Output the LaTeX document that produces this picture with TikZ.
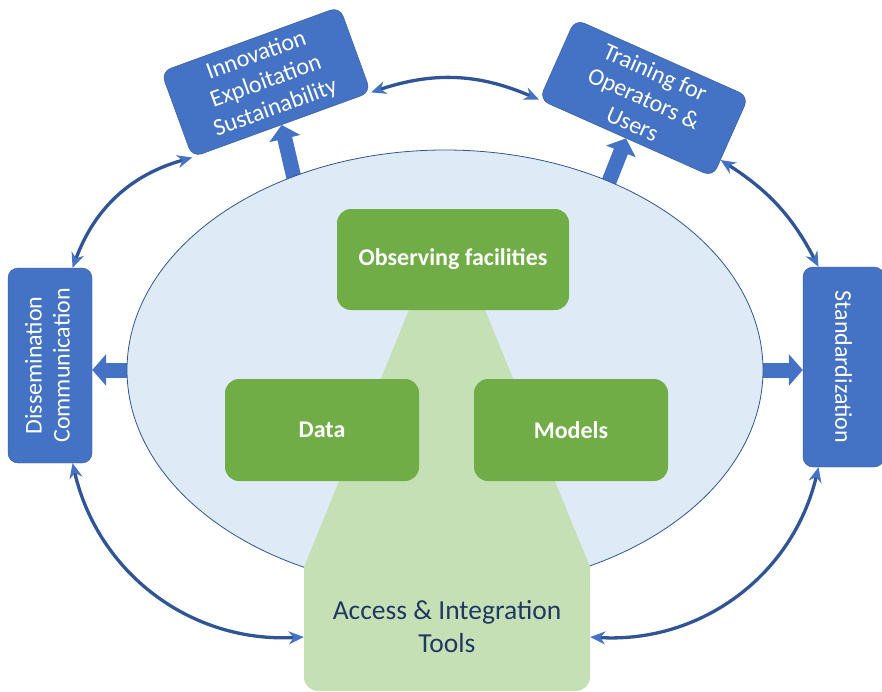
\documentclass[tikz,border=0pt]{standalone}
\usepackage{fontspec}
\setmainfont{Carlito}
\usepackage{graphicx}
\usetikzlibrary{shapes.geometric,arrows.meta,backgrounds}
\definecolor{boxblue}{HTML}{4472C4}
\definecolor{darkblue}{HTML}{2F5597}
\definecolor{paleblue}{HTML}{DEEBF7}
\definecolor{boxgreen}{HTML}{70AD47}
\definecolor{palegreen}{HTML}{C5E0B4}
\definecolor{navy}{HTML}{203864}

\begin{document}
\begin{tikzpicture}[x=1pt, y=1pt,
    outerbox/.style={draw=darkblue, fill=boxblue, rounded corners=10pt, text=white, align=center, inner sep=0pt, font=\fontsize{24}{28}\selectfont},
    corebox/.style={fill=boxgreen, rounded corners=14pt, text=white, inner sep=0pt, minimum width=194pt, minimum height=102pt, font=\fontsize{24}{29}\selectfont\bfseries},
    block/.style={line width=15pt, boxblue, -{Triangle[length=14pt, width=31pt]}, shorten <=-8pt},
    link/.style={line width=3.3pt, darkblue, {Stealth[length=15pt, width=13pt, color=boxblue]}-{Stealth[length=15pt, width=13pt, color=boxblue]}}]

    \useasboundingbox (0,0) rectangle (882,-691);

    \node[ellipse, draw=darkblue, fill=paleblue, line width=0.8pt, minimum width=636pt, minimum height=440pt, inner sep=0pt] (hub) at (445,-370) {};

    \fill[palegreen] (413,-300) -- (481,-300) -- (590,-567) -- (590,-590) -- (304,-590) -- (304,-567) -- cycle;
    \node[fill=palegreen, rounded corners=14pt, minimum width=286pt, minimum height=128pt, inner sep=0pt, text=navy, align=center, font=\fontsize{27.5}{33}\selectfont] (tools) at (447,-627) {Access \& Integration\\Tools};

    \node[corebox, minimum width=232pt, minimum height=101pt] (obs) at (453,-259.5) {Observing facilities};
    \node[corebox] (data) at (322,-430) {Data};
    \node[corebox] (models) at (571,-430) {Models};

    \node[outerbox, minimum width=190pt, minimum height=91pt, rotate=20] (innov) at (266,-82) {Innovation\\Exploitation\\Sustainability};
    \node[outerbox, minimum width=190pt, minimum height=88pt, rotate=-24] (train) at (644,-98) {Training for\\Operators \&\\Users};
    \node[outerbox, minimum width=84pt, minimum height=195pt] (diss) at (50,-365.5) {\rotatebox{90}{\begin{tabular}{@{}c@{}}Dissemination\\Communication\end{tabular}}};
    \node[outerbox, minimum width=81pt, minimum height=200pt] (std) at (843.5,-367) {\rotatebox{-90}{Standardization}};

    \begin{scope}[on background layer]
        \draw[block] (hub.west) -- (hub.west -| diss.east);
        \draw[block] (hub.east) -- (hub.east -| std.west);
        \draw[block] (hub.128) -- (innov.south);
        \draw[block] (hub.49) -- (train.south);
    \end{scope}

    \draw[link] (innov.south east) to[bend left=21] (train.south west);
    \draw[link] (innov.south west) to[bend right=27] (diss.77);
    \draw[link] (train.-15) to[bend left=15] (std.104);
    \draw[link] (diss.-77) to[bend right=40] (tools.184);
    \draw[link] (std.-104) to[bend left=40] (tools.-4);
\end{tikzpicture}
\end{document}
